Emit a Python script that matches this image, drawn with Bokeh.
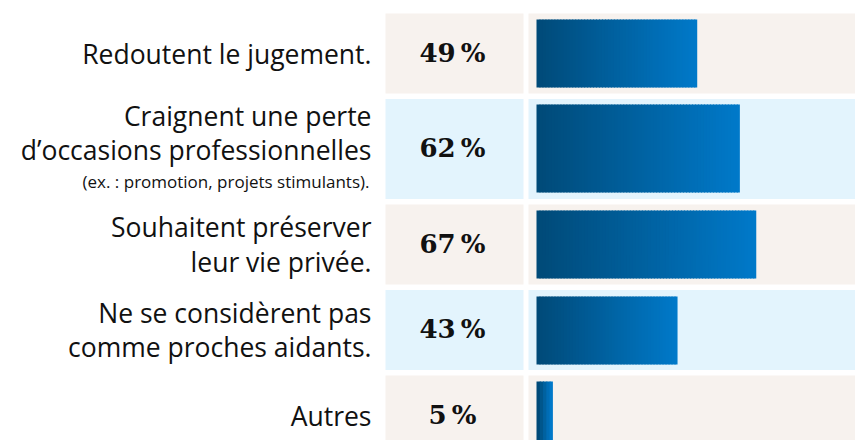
from bokeh.plotting import figure
from bokeh.models import Range1d
from bokeh.core.properties import value
from bokeh.embed import file_html
from bokeh.resources import INLINE

# ---- data ----
labels_main = [
    "Redoutent le jugement.",
    "Craignent une perte\nd\u2019occasions professionnelles",
    "Souhaitent pr\u00e9server\nleur vie priv\u00e9e.",
    "Ne se consid\u00e8rent pas\ncomme proches aidants.",
    "Autres",
]
labels_note = ["", "(ex. : promotion, projets stimulants).", "", "", ""]
values = [49, 62, 67, 43, 5]

# ---- layout / style ----
W, H = 855, 440
PX = 3.28           # pixels per percent
ZERO = 536          # figure px where bars start
row_h = [80, 100, 80, 80, 80]
gap = 5.5
top0 = 13
inset = 6
bg_cols = ["#f7f2ee", "#e3f4fd", "#f7f2ee", "#e3f4fd", "#f7f2ee"]
c0 = (0, 74, 120)
c1 = (0, 121, 201)

p = figure(width=W, height=H, output_backend="svg", toolbar_location=None,
           x_range=Range1d(-ZERO / PX, (W - ZERO) / PX),
           y_range=Range1d(H, 0), min_border=0,
           background_fill_color="white", border_fill_color="white")
p.outline_line_color = None
p.axis.visible = False
p.grid.visible = False

tops, mids = [], []
t = top0
for h in row_h:
    tops.append(t)
    mids.append(t + h / 2)
    t += h + gap
bottoms = [a + h for a, h in zip(tops, row_h)]

def px2x(px):
    return (px - ZERO) / PX

# cell backgrounds
p.quad(left=[px2x(385)] * 5, right=[px2x(523)] * 5,
       top=tops, bottom=bottoms, fill_color=bg_cols, line_color=None)
p.quad(left=[px2x(528)] * 5, right=[px2x(859)] * 5,
       top=tops, bottom=bottoms, fill_color=bg_cols, line_color=None)

# gradient bars: thin slices with ~1px overlap
L, R, T, B, C = [], [], [], [], []
ov = 1.0 / PX
for v, a, b in zip(values, tops, bottoms):
    n = max(4, int(round(v * PX / 3)))
    for i in range(n):
        f = i / (n - 1)
        col = "#%02x%02x%02x" % tuple(int(round(c0[k] + (c1[k] - c0[k]) * f)) for k in range(3))
        L.append(v * i / n)
        R.append(v if i == n - 1 else v * (i + 1) / n + ov)
        T.append(round(a + inset))
        B.append(round(b - inset))
        C.append(col)
p.quad(left=L, right=R, top=T, bottom=B, fill_color=C, line_color=None)

# percent labels
p.text(x=[px2x(452)] * 5, y=[m - 1 for m in mids], text=[f"{v}\u2009%" for v in values],
       text_align="center", text_baseline="middle",
       text_font=value("DejaVu Serif"), text_font_style="bold",
       text_font_size="26px", text_color="#111111")

# category labels
main_y = [m - (16 if note else 0) for m, note in zip(mids, labels_note)]
p.text(x=[px2x(371)] * 5, y=main_y, text=labels_main,
       text_align="right", text_baseline="middle", text_line_height=0.95,
       text_font=value("Open Sans"), text_font_size="26.5px", text_color="#111111")
note_y = [m + 32 for m in mids]
p.text(x=[px2x(369)] * 5, y=note_y, text=labels_note,
       text_align="right", text_baseline="middle",
       text_font=value("Open Sans"), text_font_size="17px", text_color="#111111")

open("out.html", "w").write(file_html(p, INLINE))
